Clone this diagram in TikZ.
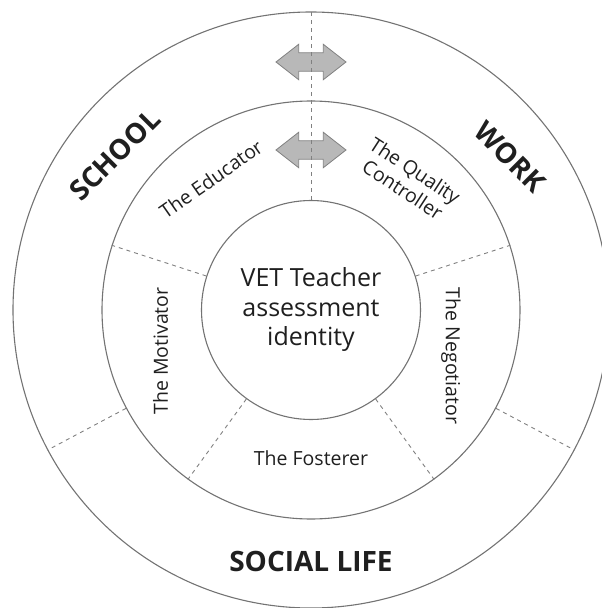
\documentclass[tikz,border=0pt]{standalone}
\usepackage{fontspec}
\setmainfont{Open Sans}
\usetikzlibrary{shapes.arrows,positioning}

\begin{document}
\begin{tikzpicture}[x=1pt,y=1pt]
  	\tikzstyle{ring}=[circle, draw=black!55, line width=1.1pt, inner sep=0pt]
  	\tikzstyle{divide}=[draw=black!50, line width=0.9pt, dash pattern=on 4pt off 4pt]
  	\tikzstyle{role}=[text=black!88, font=\fontsize{19.5}{22.5}\selectfont, align=center]
  	\tikzstyle{world}=[text=black!88, font=\fontsize{28}{32}\selectfont\bfseries]
  	\tikzstyle{swap}=[double arrow, draw=black!50, fill=black!28, line width=0.8pt, inner xsep=0pt, inner ysep=8.8pt, minimum width=34pt, minimum height=70pt, double arrow head extend=8.5pt, double arrow tip angle=76]
  	\useasboundingbox (-311,-298) rectangle (291,310);
  	% rings
  	\node[ring, minimum size=596pt] (outer) at (0,0) {};
  	\node[ring, minimum size=418pt] (middle) at (0,0) {};
  	\node[ring, minimum size=219pt, text=black!88, font=\fontsize{25}{29.5}\selectfont, align=center] (core) at (0,0) {VET Teacher\\assessment\\identity};
  	% exchange arrows
  	\node[swap] (swapout) at (0,248) {};
  	\node[swap] (swapin) at (0,160) {};
  	
  	\path   %(core.90) edge [divide] (middle.90)
  	(core.90) edge [divide] (outer.90)
  	(core.18) edge [divide] (middle.18)
  	(core.162) edge [divide] (middle.162)
  	(core.-54) edge [divide] (middle.-54)
  	(core.-126) edge [divide] (middle.-126)
  	(middle.208) edge [divide] (outer.208)
  	(middle.-28) edge [divide] (outer.-28);
  	
  	\node[world, rotate=45] (school) at (141.7:250) {SCHOOL};
  	\node[world, rotate=-45] (work) at (37.6:251) {WORK};
  	\node[world] (social) at (0,-251) {SOCIAL LIFE};
  	\node[role, rotate=35] (educator) at (-100,131) {The Educator};
  	\node[role, rotate=-33] (quality) at (98,130) {The Quality\\Controller};
  	\node[role, rotate=90] (motivator) at (-150.5,-41) {The Motivator};
  	\node[role, rotate=-90] (negotiator) at (140,-46) {The Negotiator};
  	\node[role] (fosterer) at (0,-148) {The Fosterer};
\end{tikzpicture}
\end{document}
